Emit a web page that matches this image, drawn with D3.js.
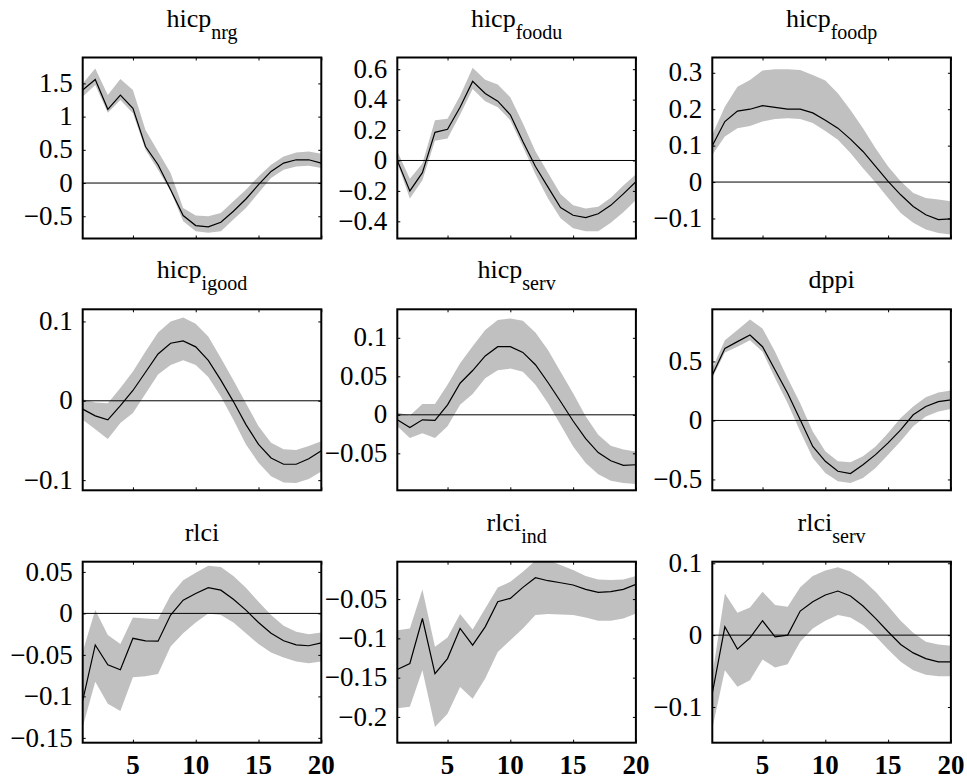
<!DOCTYPE html>
<html>
<head>
<meta charset="utf-8">
<script src="https://cdn.jsdelivr.net/npm/d3@7"></script>
<style>
  body { margin: 0; background: #fff; }
  svg text { font-family: "Liberation Serif", "Times New Roman", Times, serif; fill: #000; }
  svg .ylab { font-size: 27px; }
  svg .xlab { font-size: 27px; font-weight: bold; }
  svg .title { font-size: 26px; }
  svg .title .sub { font-size: 20px; }
</style>
</head>
<body>
<div id="wrapper"></div>
<script>
// horizons 1..20
const horizon = [1,2,3,4,5,6,7,8,9,10,11,12,13,14,15,16,17,18,19,20]
const xTicks = [5, 10, 15, 20]

// hicp_nrg
const nrgMid = [1.40,1.56,1.11,1.325,1.125,0.55,0.275,-0.10,-0.49,-0.64,-0.66,-0.59,-0.425,-0.24,-0.025,0.175,0.30,0.35,0.35,0.30]
const nrgHi  = [1.50,1.725,1.325,1.565,1.40,0.80,0.475,0.15,-0.375,-0.49,-0.50,-0.45,-0.275,-0.10,0.10,0.275,0.40,0.46,0.475,0.44]
const nrgLo  = [1.30,1.475,1.06,1.25,1.05,0.50,0.20,-0.125,-0.575,-0.725,-0.75,-0.725,-0.55,-0.375,-0.15,0.075,0.20,0.25,0.26,0.225]
const nrgTicks = [-0.5, 0, 0.5, 1, 1.5]

// hicp_foodu
const fooduMid = [0,-0.20,-0.08,0.185,0.205,0.35,0.52,0.44,0.39,0.30,0.125,-0.04,-0.175,-0.31,-0.36,-0.375,-0.35,-0.295,-0.22,-0.14]
const fooduHi  = [0.06,-0.12,-0.02,0.265,0.275,0.425,0.61,0.53,0.50,0.415,0.245,0.06,-0.08,-0.22,-0.295,-0.315,-0.305,-0.245,-0.165,-0.09]
const fooduLo  = [-0.015,-0.25,-0.13,0.13,0.145,0.30,0.47,0.39,0.35,0.265,0.09,-0.09,-0.25,-0.38,-0.445,-0.465,-0.465,-0.41,-0.34,-0.26]
const fooduTicks = [-0.4, -0.2, 0, 0.2, 0.4, 0.6]

// hicp_foodp
const foodpMid = [0.10,0.166,0.195,0.20,0.21,0.205,0.20,0.20,0.19,0.17,0.148,0.118,0.084,0.043,0.002,-0.035,-0.067,-0.09,-0.103,-0.101]
const foodpHi  = [0.13,0.207,0.262,0.28,0.306,0.31,0.31,0.308,0.294,0.279,0.244,0.198,0.148,0.093,0.043,0.002,-0.03,-0.044,-0.048,-0.053]
const foodpLo  = [0.075,0.125,0.148,0.154,0.166,0.173,0.175,0.173,0.162,0.14,0.116,0.08,0.038,-0.001,-0.044,-0.085,-0.112,-0.13,-0.14,-0.144]
const foodpTicks = [-0.1, 0, 0.1, 0.2, 0.3]

// hicp_igood
const igoodMid = [-0.0105,-0.019,-0.024,-0.006,0.013,0.036,0.059,0.0725,0.0755,0.068,0.051,0.026,-0.001,-0.030,-0.055,-0.072,-0.080,-0.080,-0.073,-0.063]
const igoodHi  = [0.002,-0.002,-0.003,0.016,0.037,0.062,0.086,0.100,0.105,0.097,0.081,0.054,0.026,-0.003,-0.032,-0.053,-0.061,-0.062,-0.057,-0.051]
const igoodLo  = [-0.024,-0.036,-0.048,-0.028,-0.0155,0.009,0.033,0.045,0.051,0.045,0.030,0.0055,-0.024,-0.055,-0.078,-0.095,-0.103,-0.1035,-0.0985,-0.089]
const igoodTicks = [-0.1, 0, 0.1]

// hicp_serv
const servMid = [-0.0065,-0.0165,-0.0065,-0.0073,0.013,0.041,0.0575,0.0765,0.0885,0.0885,0.081,0.065,0.042,0.0173,-0.008,-0.031,-0.049,-0.0596,-0.0656,-0.0648]
const servHi  = [0.003,-0.001,0.014,0.014,0.039,0.067,0.089,0.110,0.123,0.125,0.122,0.107,0.084,0.056,0.028,-0.002,-0.026,-0.040,-0.045,-0.0475]
const servLo  = [-0.015,-0.030,-0.024,-0.030,-0.015,0.013,0.027,0.0475,0.058,0.060,0.056,0.039,0.015,-0.013,-0.041,-0.0626,-0.077,-0.0855,-0.0885,-0.0898]
const servTicks = [-0.05, 0, 0.05, 0.1]

// dppi
const dppiMid = [0.386,0.61,0.668,0.724,0.625,0.428,0.231,0.006,-0.22,-0.346,-0.431,-0.45,-0.375,-0.29,-0.19,-0.08,0.048,0.118,0.16,0.175]
const dppiHi  = [0.44,0.68,0.766,0.856,0.78,0.583,0.358,0.146,-0.093,-0.262,-0.346,-0.355,-0.304,-0.22,-0.107,0.02,0.118,0.197,0.237,0.253]
const dppiLo  = [0.36,0.575,0.625,0.68,0.583,0.358,0.146,-0.093,-0.318,-0.445,-0.515,-0.53,-0.487,-0.403,-0.29,-0.177,-0.05,0.034,0.076,0.096]
const dppiTicks = [-0.5, 0, 0.5]

// rlci
const rlciMid = [-0.105,-0.038,-0.062,-0.068,-0.030,-0.033,-0.0335,-0.002,0.016,0.024,0.031,0.028,0.017,0.004,-0.011,-0.024,-0.033,-0.038,-0.039,-0.0355]
const rlciHi  = [-0.046,0.004,-0.026,-0.037,-0.005,-0.006,-0.007,0.022,0.040,0.049,0.0575,0.056,0.045,0.031,0.014,-0.002,-0.015,-0.022,-0.025,-0.023]
const rlciLo  = [-0.137,-0.0825,-0.109,-0.1175,-0.077,-0.0757,-0.073,-0.040,-0.024,-0.011,0.0,-0.002,-0.011,-0.024,-0.037,-0.047,-0.053,-0.058,-0.060,-0.058]
const rlciTicks = [-0.15, -0.1, -0.05, 0, 0.05]

// rlci_ind
const indMid = [-0.1397,-0.132,-0.0747,-0.145,-0.1257,-0.0874,-0.1087,-0.0853,-0.0534,-0.0491,-0.0351,-0.0228,-0.0266,-0.0292,-0.0321,-0.0377,-0.0415,-0.0406,-0.0377,-0.0313]
const indHi  = [-0.0895,-0.0874,-0.0377,-0.1108,-0.0989,-0.0691,-0.0887,-0.0619,-0.0351,-0.0279,-0.0151,-0.001,0.0,-0.0066,-0.013,-0.0207,-0.0249,-0.0258,-0.0249,-0.0207]
const indLo  = [-0.189,-0.187,-0.1406,-0.2128,-0.1958,-0.1618,-0.1767,-0.1512,-0.1172,-0.1023,-0.0874,-0.0704,-0.0691,-0.0696,-0.0704,-0.0734,-0.0776,-0.0776,-0.0747,-0.0683]
const indTicks = [-0.2, -0.15, -0.1, -0.05]

// rlci_serv
const rservMid = [-0.081,0.0116,-0.0195,-0.0037,0.020,-0.0023,0.0,0.0335,0.0465,0.0558,0.0614,0.0544,0.0405,0.0233,0.0047,-0.013,-0.0247,-0.0326,-0.0372,-0.0372]
const rservHi  = [-0.056,0.058,0.031,0.0386,0.0605,0.042,0.0395,0.0665,0.0823,0.0898,0.0944,0.0884,0.0767,0.0605,0.0405,0.020,0.0033,-0.0093,-0.013,-0.0149]
const rservLo  = [-0.13,-0.049,-0.072,-0.0628,-0.034,-0.045,-0.0405,-0.0093,0.0093,0.020,0.028,0.0247,0.014,-0.0014,-0.020,-0.0372,-0.049,-0.055,-0.0572,-0.0572]
const rservTicks = [-0.1, 0, 0.1]

const panels = [
  { name: "hicp", sub: "nrg",   mid: nrgMid,   hi: nrgHi,   lo: nrgLo,   yDomain: [-0.835, 1.89],   ticks: nrgTicks },
  { name: "hicp", sub: "foodu", mid: fooduMid, hi: fooduHi, lo: fooduLo, yDomain: [-0.513, 0.677],  ticks: fooduTicks },
  { name: "hicp", sub: "foodp", mid: foodpMid, hi: foodpHi, lo: foodpLo, yDomain: [-0.155, 0.342],  ticks: foodpTicks },
  { name: "hicp", sub: "igood", mid: igoodMid, hi: igoodHi, lo: igoodLo, yDomain: [-0.1128, 0.1153], ticks: igoodTicks },
  { name: "hicp", sub: "serv",  mid: servMid,  hi: servHi,  lo: servLo,  yDomain: [-0.098, 0.137],  ticks: servTicks },
  { name: "dppi", sub: "",      mid: dppiMid,  hi: dppiHi,  lo: dppiLo,  yDomain: [-0.592, 0.942],  ticks: dppiTicks },
  { name: "rlci", sub: "",      mid: rlciMid,  hi: rlciHi,  lo: rlciLo,  yDomain: [-0.1558, 0.0623], ticks: rlciTicks },
  { name: "rlci", sub: "ind",   mid: indMid,   hi: indHi,   lo: indLo,   yDomain: [-0.2328, -0.0024], ticks: indTicks },
  { name: "rlci", sub: "serv",  mid: rservMid, hi: rservHi, lo: rservLo, yDomain: [-0.1497, 0.1022], ticks: rservTicks }
]

function drawIrfGrid() {
  const dimensions = {
    width: 967,
    height: 780,
    colLeft: [82.7, 397.3, 712.3],
    rowTop: [57.5, 309.3, 561.7],
    panelWidth: 238.6,
    panelHeight: 181
  }

  const svg = d3.select("#wrapper")
    .append("svg")
      .attr("width", dimensions.width)
      .attr("height", dimensions.height)

  const fmt = v => String(v).replace("-", "\u2212")
  const tickLen = 3

  panels.forEach((p, i) => {
    const col = i % 3
    const row = Math.floor(i / 3)
    const w = dimensions.panelWidth
    const h = dimensions.panelHeight

    const g = svg.append("g")
      .attr("transform", `translate(${dimensions.colLeft[col]}, ${dimensions.rowTop[row]})`)

    const xScale = d3.scaleLinear().domain([1, 20]).range([0, w])
    const yScale = d3.scaleLinear().domain(p.yDomain).range([h, 0])

    const clipId = `clip${i}`
    g.append("clipPath").attr("id", clipId)
      .append("rect").attr("width", w).attr("height", h)

    const plot = g.append("g").attr("clip-path", `url(#${clipId})`)

    const band = d3.area()
      .x((d, j) => xScale(horizon[j]))
      .y0((d, j) => yScale(p.lo[j]))
      .y1((d, j) => yScale(p.hi[j]))

    plot.append("path")
      .datum(p.mid)
      .attr("d", band)
      .attr("fill", "#c0c0c0")

    const [y0, y1] = p.yDomain
    if (y0 < 0 && y1 > 0) {
      plot.append("line")
        .attr("x1", 0).attr("x2", w)
        .attr("y1", yScale(0)).attr("y2", yScale(0))
        .attr("stroke", "#000")
        .attr("stroke-width", 1)
    }

    const line = d3.line()
      .x((d, j) => xScale(horizon[j]))
      .y(d => yScale(d))

    plot.append("path")
      .datum(p.mid)
      .attr("d", line)
      .attr("fill", "none")
      .attr("stroke", "#000")
      .attr("stroke-width", 1.2)

    // inward tick marks on all four sides, like a boxed matlab axis
    const axes = [
      g.append("g").call(d3.axisLeft(yScale).tickValues(p.ticks).tickSize(-tickLen).tickFormat("")),
      g.append("g").attr("transform", `translate(${w},0)`)
        .call(d3.axisRight(yScale).tickValues(p.ticks).tickSize(-tickLen).tickFormat("")),
      g.append("g").attr("transform", `translate(0,${h})`)
        .call(d3.axisBottom(xScale).tickValues(xTicks).tickSize(-tickLen).tickFormat("")),
      g.append("g").call(d3.axisTop(xScale).tickValues(xTicks).tickSize(-tickLen).tickFormat(""))
    ]
    axes.forEach(a => {
      a.select(".domain").remove()
      a.selectAll(".tick text").remove()
      a.selectAll(".tick line").attr("stroke", "#000").attr("stroke-width", 1)
    })

    g.selectAll(".ylab")
      .data(p.ticks)
      .enter().append("text")
        .attr("class", "ylab")
        .attr("x", -10)
        .attr("y", d => yScale(d))
        .attr("dy", "0.32em")
        .attr("text-anchor", "end")
        .text(fmt)

    if (row === 2) {
      g.selectAll(".xlab")
        .data(xTicks)
        .enter().append("text")
          .attr("class", "xlab")
          .attr("x", d => xScale(d))
          .attr("y", h + 31)
          .attr("text-anchor", "middle")
          .text(d => d)
    }

    g.append("rect")
      .attr("width", w)
      .attr("height", h)
      .attr("fill", "none")
      .attr("stroke", "#000")
      .attr("stroke-width", 2)

    const title = g.append("text")
      .attr("class", "title")
      .attr("x", w / 2)
      .attr("y", p.sub ? -31 : -21)
      .attr("text-anchor", "middle")
    title.append("tspan").text(p.name)
    if (p.sub) {
      title.append("tspan")
        .attr("class", "sub")
        .attr("dy", 12)
        .text(p.sub)
    }
  })
}

drawIrfGrid()
</script>
</body>
</html>
